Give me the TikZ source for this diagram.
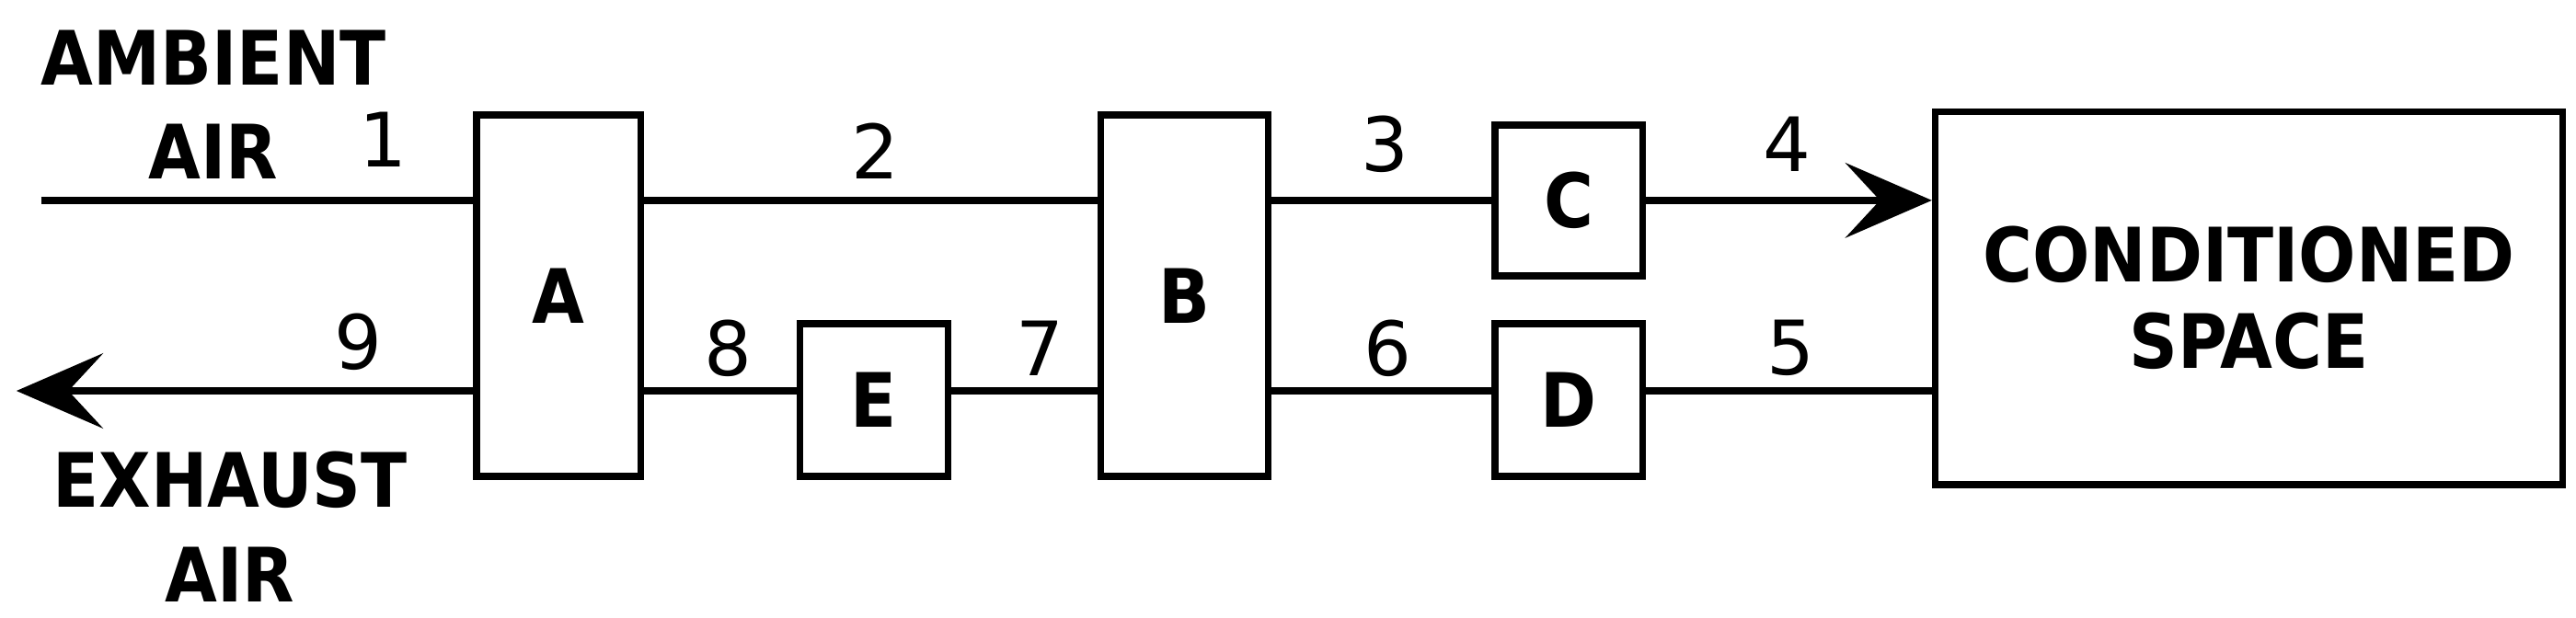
\documentclass[tikz,border=0pt]{standalone}
\usepackage{fontspec}
\setmainfont{DejaVu Sans}
\newfontfamily\labfont{DejaVu Sans Condensed}
\usetikzlibrary{arrows.meta}
\begin{document}
\begin{tikzpicture}[x=0.02cm,y=-0.02cm,>={Stealth[length=30pt,width=26pt,inset=12pt]},
  line width=2.4pt,every node/.style={font=\fontsize{26}{30}\selectfont},
  word/.style={font=\fontsize{26}{30}\labfont\bfseries}]
\useasboundingbox (0,0) rectangle (1568,376);
%%
\node (A) [draw,word,minimum width=2cm,minimum height=4.4cm] at (340,180) {A};
\node (B) [draw,word,minimum width=2.04cm,minimum height=4.4cm] at (721,180) {B};
\node (C) [draw,word,minimum width=1.8cm,minimum height=1.84cm] at (955,122) {C};
\node (D) [draw,word,minimum width=1.8cm,minimum height=1.86cm] at (955,243.5) {D};
\node (E) [draw,word,minimum width=1.8cm,minimum height=1.86cm] at (532,243.5) {E};
\node (space) [draw,word,minimum width=7.64cm,minimum height=4.54cm,align=center] at (1369,181.5) {CONDITIONED\\SPACE};
\coordinate (in) at (25,122);
\coordinate (out) at (10,238);
%%
\draw (in) -- (in -| A.west);
\draw (A.east |- in) -- (B.west |- in);
\draw (B.east |- C) -- (C);
\draw[->] (C) -- (space.west |- C);
\draw (space.west |- out) -- (D.east |- out);
\draw (D.west |- out) -- (B.east |- out);
\draw (B.west |- out) -- (E.east |- out);
\draw (E.west |- out) -- (A.east |- out);
\draw[->] (A.west |- out) -- (out);
%%
\node (l1) at (233,85) {1};
\node (l2) at (533,92) {2};
\node (l3) at (843,88) {3};
\node (l4) at (1088,88) {4};
\node (l5) at (1090,212) {5};
\node (l6) at (845,212) {6};
\node (l7) at (633,212) {7};
\node (l8) at (443,212) {8};
\node (l9) at (218,208) {9};
\node (amb) [word] at (130,35) {AMBIENT};
\node (ambair) [word] at (130,92) {AIR};
\node (exh) [word] at (140,292) {EXHAUST};
\node (exhair) [word] at (140,350) {AIR};
%
\end{tikzpicture}
\end{document}
